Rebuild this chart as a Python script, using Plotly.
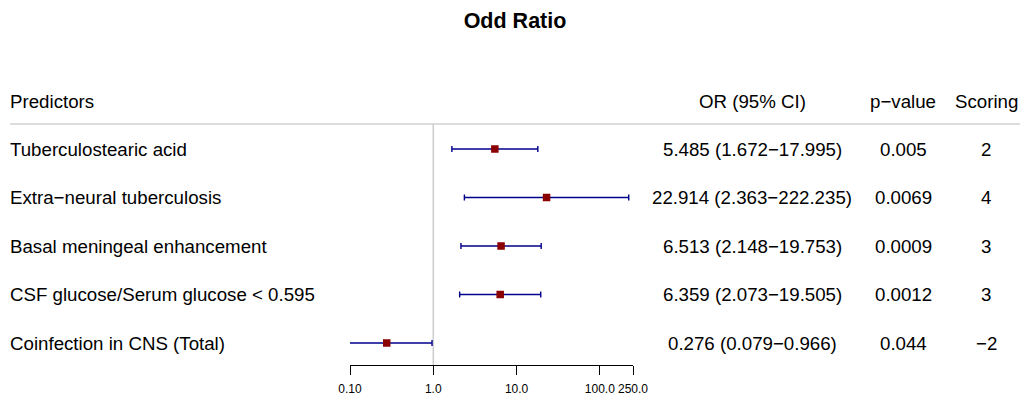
import plotly.graph_objects as go

# ---- data -------------------------------------------------------------
predictors = [
    "Tuberculostearic acid",
    "Extra\u2212neural tuberculosis",
    "Basal meningeal enhancement",
    "CSF glucose/Serum glucose < 0.595",
    "Coinfection in CNS (Total)",
]
odds_ratio = [5.485, 22.914, 6.513, 6.359, 0.276]
ci_lower = [1.672, 2.363, 2.148, 2.073, 0.079]
ci_upper = [17.995, 222.235, 19.753, 19.505, 0.966]
p_values = ["0.005", "0.0069", "0.0009", "0.0012", "0.044"]
scoring = ["2", "4", "3", "3", "\u22122"]

tick_vals = [0.1, 1, 10, 100, 250]
tick_text = ["0.10", "1.0", "10.0", "100.0", "250.0"]

# ---- layout geometry (pixels) ----------------------------------------
W, H = 1020, 396
AXIS_PX = 365          # bottom of the forest panel (x-axis line)
ROW0_PX = 149          # centre of first row
ROW_PX = 48.5          # row spacing
HEADER_PX = 101
RULE_PX = 124

def row_of(px):
    return (px - ROW0_PX) / ROW_PX

FONT = "Liberation Sans, Arial, Helvetica, sans-serif"
FS = 18.7
rows = list(range(len(predictors)))

fig = go.Figure()

fig.add_trace(go.Scatter(
    x=odds_ratio,
    y=rows,
    mode="markers",
    marker=dict(symbol="square", size=7.5, color="#8B0000"),
    error_x=dict(
        type="data",
        symmetric=False,
        array=[hi - o for hi, o in zip(ci_upper, odds_ratio)],
        arrayminus=[o - lo for o, lo in zip(odds_ratio, ci_lower)],
        color="#00008B",
        thickness=1.4,
        width=3,
    ),
    hoverinfo="skip",
    showlegend=False,
))

# reference line at OR = 1
fig.add_shape(type="line", xref="x", yref="y", x0=1, x1=1,
              y0=row_of(RULE_PX), y1=row_of(AXIS_PX),
              line=dict(color="#cccccc", width=1.5), layer="below")
# rule under the header
fig.add_shape(type="line", xref="paper", yref="y", x0=10 / W, x1=1,
              y0=row_of(RULE_PX), y1=row_of(RULE_PX),
              line=dict(color="#d0d0d0", width=1.5))

ann = []
def text(x_px, y_row, s, anchor):
    ann.append(dict(x=x_px / W, xref="paper", y=y_row, yref="y", text=s,
                    showarrow=False, xanchor=anchor, yanchor="middle",
                    borderpad=0, borderwidth=0,
                    font=dict(family=FONT, size=FS, color="black")))

hdr = row_of(HEADER_PX)
text(10, hdr, "Predictors", "left")
text(752, hdr, "OR (95% CI)", "center")
text(903, hdr, "p\u2212value", "center")
text(986, hdr, "Scoring", "center")

for i in rows:
    text(10, i, predictors[i], "left")
    text(752, i, f"{odds_ratio[i]:.3f} ({ci_lower[i]:.3f}\u2212{ci_upper[i]:.3f})", "center")
    text(903, i, p_values[i], "center")
    text(986, i, scoring[i], "center")

fig.update_layout(
    width=W, height=H,
    margin=dict(l=0, r=0, t=0, b=0, autoexpand=False),
    paper_bgcolor="white", plot_bgcolor="white",
    title=dict(text="<b>Odd Ratio</b>", x=515 / W, xanchor="center",
               y=1 - 20 / H, yanchor="middle", yref="container",
               font=dict(family=FONT, size=21.5, color="black")),
    annotations=ann,
    xaxis=dict(
        type="log", domain=[350 / W, 633 / W],
        range=[-1, 2.39794],
        tickvals=tick_vals, ticktext=tick_text, tickangle=0,
        showgrid=False, zeroline=False, automargin=False,
        showline=True, linecolor="black", linewidth=1,
        ticks="outside", ticklen=9, tickwidth=1, tickcolor="black",
        ticklabelstandoff=4,
        tickfont=dict(family=FONT, size=12, color="black"),
    ),
    yaxis=dict(
        domain=[(H - AXIS_PX) / H, 1],
        range=[row_of(AXIS_PX), row_of(0)],
        visible=False, showgrid=False, zeroline=False, automargin=False,
    ),
)

fig.write_html("out.html")
